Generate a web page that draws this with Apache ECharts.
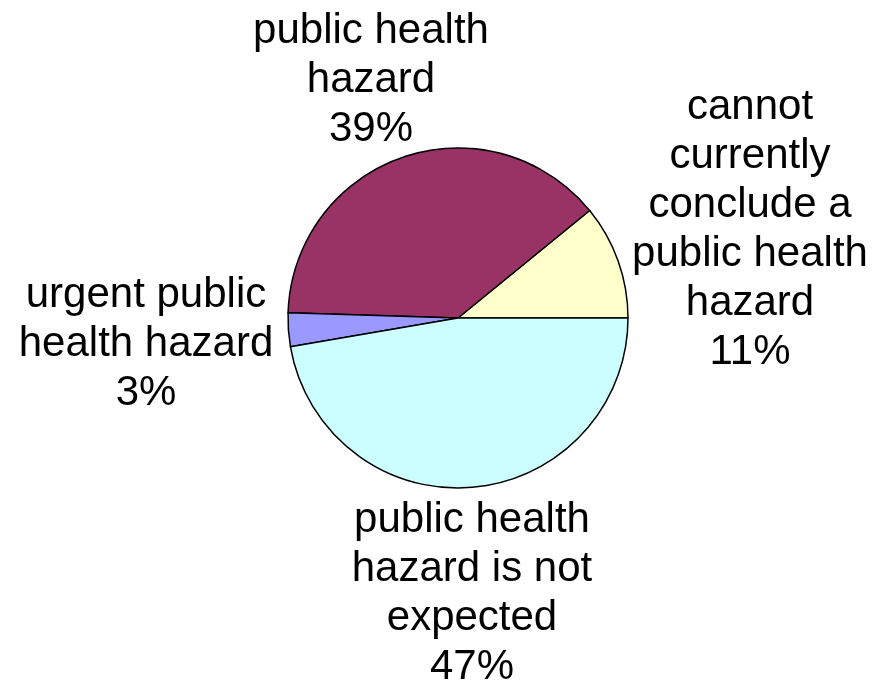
<!DOCTYPE html>
<html>
<head>
<meta charset="utf-8">
<script src="https://cdn.jsdelivr.net/npm/echarts@6/dist/echarts.min.js"></script>
<style>
html,body{margin:0;padding:0;background:#fff;}
#chart{width:873px;height:690px;}
</style>
</head>
<body>
<div id="chart"></div>
<script>
// Data (counter-clockwise from 3 o'clock)
var categories = [
  "cannot\ncurrently\nconclude a\npublic health\nhazard",
  "public health\nhazard",
  "urgent public\nhealth hazard",
  "public health\nhazard is not\nexpected"
];
var values = [10.9, 38.6, 3.2, 47.3];
var colors = ["#FFFFCC", "#993366", "#9999FF", "#CCFFFF"];
// label block centres (layout only)
var labelPos = [[750, 230], [371, 80], [146, 344], [472, 594]];

var chart = echarts.init(document.getElementById('chart'));
chart.setOption({
  animation: false,
  backgroundColor: '#ffffff',
  series: [{
    type: 'pie',
    center: [458, 318],
    radius: 170,
    startAngle: 0,
    clockwise: false,
    data: categories.map(function (c, i) {
      return { name: c, value: values[i], itemStyle: { color: colors[i] } };
    }),
    itemStyle: { borderColor: '#000', borderWidth: 1.5 },
    label: {
      show: true,
      position: 'outside',
      fontFamily: 'Liberation Sans, Arial, sans-serif',
      fontSize: 42,
      lineHeight: 49,
      color: '#000',
      align: 'center',
      overflow: 'none',
      width: 300,
      formatter: function (p) { return p.name + '\n' + Math.round(p.percent) + '%'; }
    },
    labelLine: { show: false },
    labelLayout: function (params) {
      var pos = labelPos[params.dataIndex];
      return { x: pos[0], y: pos[1], align: 'center', verticalAlign: 'middle' };
    },
    emphasis: { disabled: true }
  }]
});
</script>
</body>
</html>
